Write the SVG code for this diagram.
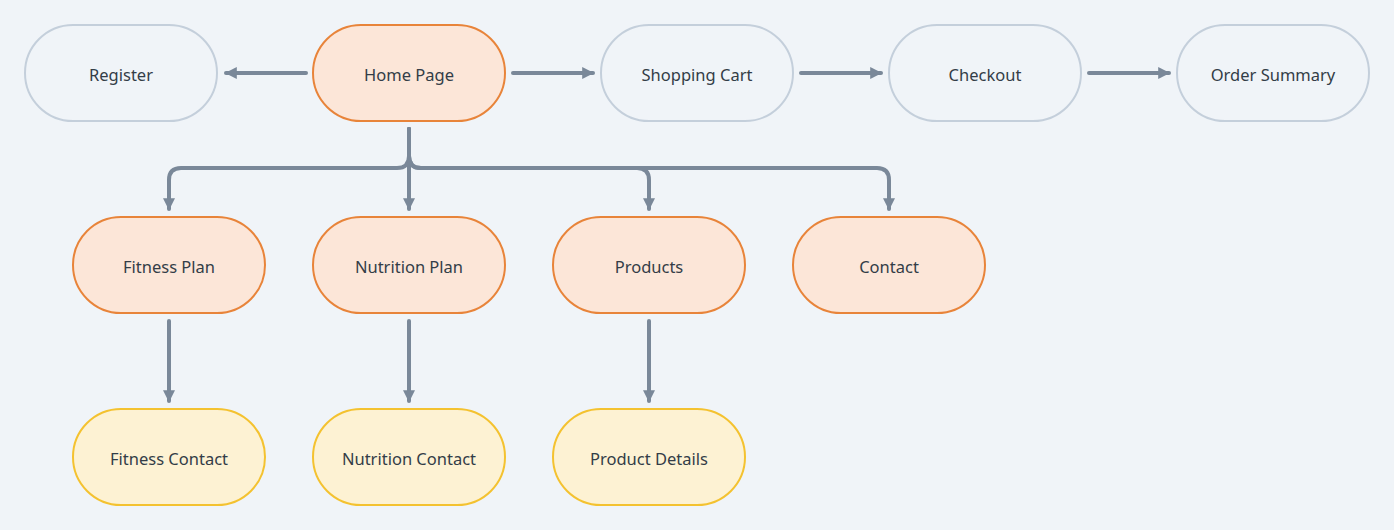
<svg xmlns="http://www.w3.org/2000/svg" width="1394" height="530" viewBox="0 0 1394 530">
<defs>
<style>
.node rect{stroke-width:2}
.gray rect{fill:#f0f4f8;stroke:#c4cfdb}
.orange rect{fill:#fce6d8;stroke:#e8843a}
.yellow rect{fill:#fdf2d3;stroke:#f4c230}
.node text{font-family:"Noto Sans","DejaVu Sans",sans-serif;font-size:16.5px;fill:#333d47;text-anchor:middle;dominant-baseline:central}
.edge{fill:none;stroke:#7a8899;stroke-width:4;stroke-linecap:round;stroke-linejoin:round}
</style>
<marker id="arr" viewBox="0 0 10 10" refX="9" refY="5" markerWidth="3" markerHeight="3" markerUnits="strokeWidth" orient="auto">
<path d="M0 0 L10 5 L0 10 z" fill="#7a8899"/>
</marker>
</defs>
<rect width="1394" height="530" fill="#f0f4f8"/>
<g id="connectors">
<path class="edge" d="M306 73 H226" marker-end="url(#arr)"/>
<path class="edge" d="M513 73 H593" marker-end="url(#arr)"/>
<path class="edge" d="M801 73 H881" marker-end="url(#arr)"/>
<path class="edge" d="M1089 73 H1169" marker-end="url(#arr)"/>
<path class="edge" d="M409 129 V156 Q409 168 397 168 H181 Q169 168 169 180 V209" marker-end="url(#arr)"/>
<path class="edge" d="M409 129 V209" marker-end="url(#arr)"/>
<path class="edge" d="M409 129 V156 Q409 168 421 168 H637 Q649 168 649 180 V209" marker-end="url(#arr)"/>
<path class="edge" d="M409 129 V156 Q409 168 421 168 H877 Q889 168 889 180 V209" marker-end="url(#arr)"/>
<path class="edge" d="M169 321 V401" marker-end="url(#arr)"/>
<path class="edge" d="M409 321 V401" marker-end="url(#arr)"/>
<path class="edge" d="M649 321 V401" marker-end="url(#arr)"/>
</g>
<g id="register" class="node gray"><rect x="25" y="25" width="192" height="96" rx="48"/><text x="121" y="74">Register</text></g>
<g id="home" class="node orange"><rect x="313" y="25" width="192" height="96" rx="48"/><text x="409" y="74">Home Page</text></g>
<g id="cart" class="node gray"><rect x="601" y="25" width="192" height="96" rx="48"/><text x="697" y="74">Shopping Cart</text></g>
<g id="checkout" class="node gray"><rect x="889" y="25" width="192" height="96" rx="48"/><text x="985" y="74">Checkout</text></g>
<g id="summary" class="node gray"><rect x="1177" y="25" width="192" height="96" rx="48"/><text x="1273" y="74">Order Summary</text></g>
<g id="fitness" class="node orange"><rect x="73" y="217" width="192" height="96" rx="48"/><text x="169" y="266">Fitness Plan</text></g>
<g id="nutrition" class="node orange"><rect x="313" y="217" width="192" height="96" rx="48"/><text x="409" y="266">Nutrition Plan</text></g>
<g id="products" class="node orange"><rect x="553" y="217" width="192" height="96" rx="48"/><text x="649" y="266">Products</text></g>
<g id="contact" class="node orange"><rect x="793" y="217" width="192" height="96" rx="48"/><text x="889" y="266">Contact</text></g>
<g id="fitnessContact" class="node yellow"><rect x="73" y="409" width="192" height="96" rx="48"/><text x="169" y="458">Fitness Contact</text></g>
<g id="nutritionContact" class="node yellow"><rect x="313" y="409" width="192" height="96" rx="48"/><text x="409" y="458">Nutrition Contact</text></g>
<g id="productDetails" class="node yellow"><rect x="553" y="409" width="192" height="96" rx="48"/><text x="649" y="458">Product Details</text></g>
</svg>
